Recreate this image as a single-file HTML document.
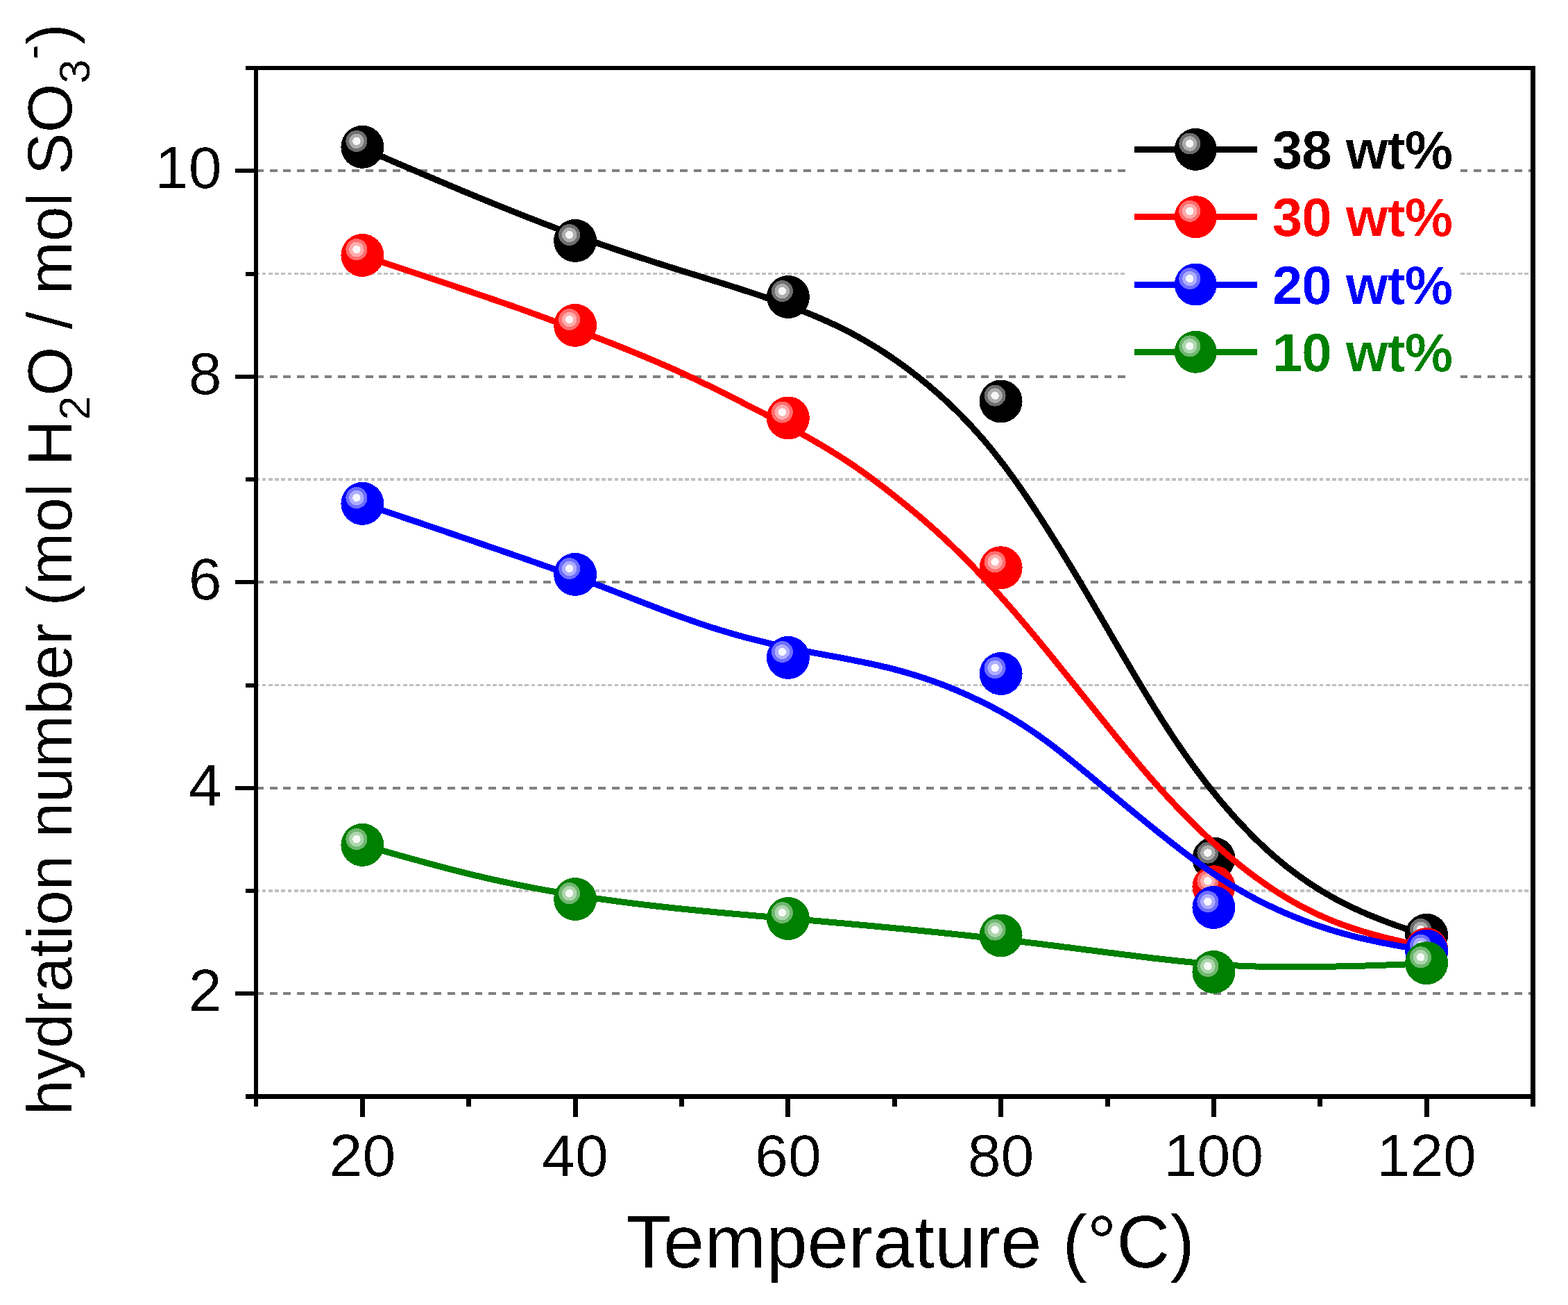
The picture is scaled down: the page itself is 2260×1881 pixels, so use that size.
<!DOCTYPE html>
<html><head><meta charset="utf-8"><title>hydration number</title>
<style>
html,body{margin:0;padding:0;background:#fff;overflow:hidden;}
svg{display:block;}
text{font-family:"Liberation Sans",Arial,Helvetica,sans-serif;fill:#000;}
</style></head>
<body>
<svg width="2260" height="1881" viewBox="0 0 2260 1881" shape-rendering="crispEdges">
<defs><filter id="al" x="0" y="0" width="1" height="1"><feComponentTransfer><feFuncA type="discrete" tableValues="0 0 1"/></feComponentTransfer></filter></defs>
<rect x="0" y="0" width="2260" height="1881" fill="#fff"/>
<g><line x1="369" y1="1432.25" x2="2206" y2="1432.25" stroke="#808080" stroke-width="3.6" stroke-dasharray="10.8 8.92"/><line x1="369" y1="1135.75" x2="2206" y2="1135.75" stroke="#808080" stroke-width="3.6" stroke-dasharray="10.8 8.92"/><line x1="369" y1="839.25" x2="2206" y2="839.25" stroke="#808080" stroke-width="3.6" stroke-dasharray="10.8 8.92"/><line x1="369" y1="542.75" x2="2206" y2="542.75" stroke="#808080" stroke-width="3.6" stroke-dasharray="10.8 8.92"/><line x1="369" y1="246.25" x2="2206" y2="246.25" stroke="#808080" stroke-width="3.6" stroke-dasharray="10.8 8.92"/><line x1="368.4" y1="1284.00" x2="2206" y2="1284.00" stroke="#c0c0c0" stroke-width="3.2" stroke-dasharray="5.8 3.436"/><line x1="368.4" y1="987.50" x2="2206" y2="987.50" stroke="#c0c0c0" stroke-width="3.2" stroke-dasharray="5.8 3.436"/><line x1="368.4" y1="691.00" x2="2206" y2="691.00" stroke="#c0c0c0" stroke-width="3.2" stroke-dasharray="5.8 3.436"/><line x1="368.4" y1="394.50" x2="2206" y2="394.50" stroke="#c0c0c0" stroke-width="3.2" stroke-dasharray="5.8 3.436"/></g>
<rect x="1622" y="160" width="483" height="400" fill="#fff"/>
<path d="M522.4 213.6 L525.4 214.9 L528.4 216.2 L531.4 217.5 L534.4 218.8 L537.4 220.1 L540.4 221.4 L543.4 222.7 L546.4 224.0 L549.4 225.3 L552.4 226.5 L555.4 227.8 L558.4 229.1 L561.4 230.4 L564.4 231.7 L567.4 233.0 L570.4 234.3 L573.4 235.6 L576.4 236.9 L579.4 238.1 L582.4 239.4 L585.4 240.7 L588.4 242.0 L591.4 243.3 L594.4 244.6 L597.4 245.8 L600.4 247.1 L603.4 248.4 L606.4 249.7 L609.4 251.0 L612.4 252.2 L615.4 253.5 L618.4 254.8 L621.4 256.1 L624.4 257.3 L627.4 258.6 L630.4 259.9 L633.4 261.1 L636.4 262.4 L639.4 263.7 L642.4 264.9 L645.4 266.2 L648.4 267.5 L651.4 268.7 L654.4 270.0 L657.4 271.2 L660.4 272.5 L663.4 273.8 L666.4 275.0 L669.4 276.3 L672.4 277.5 L675.4 278.8 L678.4 280.0 L681.4 281.2 L684.4 282.5 L687.4 283.7 L690.4 285.0 L693.4 286.2 L696.4 287.4 L699.4 288.7 L702.4 289.9 L705.4 291.1 L708.4 292.3 L711.4 293.6 L714.4 294.8 L717.4 296.0 L720.4 297.2 L723.4 298.4 L726.4 299.6 L729.4 300.8 L732.4 302.0 L735.4 303.2 L738.4 304.4 L741.4 305.6 L744.4 306.8 L747.4 308.0 L750.4 309.2 L753.4 310.4 L756.4 311.6 L759.4 312.8 L762.4 313.9 L765.4 315.1 L768.4 316.3 L771.4 317.4 L774.4 318.6 L777.4 319.8 L780.4 320.9 L783.4 322.1 L786.4 323.2 L789.4 324.4 L792.4 325.5 L795.4 326.6 L798.4 327.8 L801.4 328.9 L804.4 330.0 L807.4 331.1 L810.4 332.3 L813.4 333.4 L816.4 334.5 L819.4 335.6 L822.4 336.7 L825.4 337.8 L828.4 338.8 L831.4 339.9 L834.4 341.0 L837.4 342.1 L840.4 343.2 L843.4 344.2 L846.4 345.3 L849.4 346.3 L852.4 347.4 L855.4 348.5 L858.4 349.5 L861.4 350.5 L864.4 351.6 L867.4 352.6 L870.4 353.7 L873.4 354.7 L876.4 355.7 L879.4 356.7 L882.4 357.8 L885.4 358.8 L888.4 359.8 L891.4 360.8 L894.4 361.8 L897.4 362.8 L900.4 363.8 L903.4 364.8 L906.4 365.8 L909.4 366.8 L912.4 367.8 L915.4 368.8 L918.4 369.8 L921.4 370.8 L924.4 371.8 L927.4 372.7 L930.4 373.7 L933.4 374.7 L936.4 375.7 L939.4 376.6 L942.4 377.6 L945.4 378.6 L948.4 379.5 L951.4 380.5 L954.4 381.4 L957.4 382.4 L960.4 383.3 L963.4 384.3 L966.4 385.2 L969.4 386.2 L972.4 387.1 L975.4 388.1 L978.4 389.0 L981.4 389.9 L984.4 390.9 L987.4 391.8 L990.4 392.7 L993.4 393.7 L996.4 394.6 L999.4 395.5 L1002.4 396.4 L1005.4 397.4 L1008.4 398.3 L1011.4 399.2 L1014.4 400.2 L1017.4 401.1 L1020.4 402.0 L1023.4 402.9 L1026.4 403.9 L1029.4 404.8 L1032.4 405.7 L1035.4 406.7 L1038.4 407.6 L1041.4 408.5 L1044.4 409.5 L1047.4 410.4 L1050.4 411.4 L1053.4 412.3 L1056.4 413.3 L1059.4 414.2 L1062.4 415.2 L1065.4 416.2 L1068.4 417.1 L1071.4 418.1 L1074.4 419.1 L1077.4 420.0 L1080.4 421.0 L1083.4 422.0 L1086.4 423.0 L1089.4 424.0 L1092.4 425.0 L1095.4 426.0 L1098.4 427.0 L1101.4 428.1 L1104.4 429.1 L1107.4 430.1 L1110.4 431.2 L1113.4 432.2 L1116.4 433.3 L1119.4 434.3 L1122.4 435.4 L1125.4 436.5 L1128.4 437.6 L1131.4 438.6 L1134.4 439.8 L1137.4 440.9 L1140.4 442.0 L1143.4 443.1 L1146.4 444.3 L1149.4 445.4 L1152.4 446.6 L1155.4 447.8 L1158.4 448.9 L1161.4 450.1 L1164.4 451.4 L1167.4 452.6 L1170.4 453.8 L1173.4 455.1 L1176.4 456.3 L1179.4 457.6 L1182.4 458.9 L1185.4 460.2 L1188.4 461.5 L1191.4 462.9 L1194.4 464.2 L1197.4 465.6 L1200.4 467.0 L1203.4 468.4 L1206.4 469.9 L1209.4 471.3 L1212.4 472.8 L1215.4 474.3 L1218.4 475.8 L1221.4 477.3 L1224.4 478.9 L1227.4 480.4 L1230.4 482.0 L1233.4 483.7 L1236.4 485.3 L1239.4 487.0 L1242.4 488.7 L1245.4 490.4 L1248.4 492.1 L1251.4 493.9 L1254.4 495.7 L1257.4 497.5 L1260.4 499.3 L1263.4 501.1 L1266.4 503.0 L1269.4 504.9 L1272.4 506.8 L1275.4 508.8 L1278.4 510.8 L1281.4 512.8 L1284.4 514.8 L1287.4 516.9 L1290.4 518.9 L1293.4 521.0 L1296.4 523.2 L1299.4 525.3 L1302.4 527.5 L1305.4 529.7 L1308.4 531.9 L1311.4 534.2 L1314.4 536.5 L1317.4 538.8 L1320.4 541.1 L1323.4 543.5 L1326.4 545.8 L1329.4 548.3 L1332.4 550.7 L1335.4 553.2 L1338.4 555.7 L1341.4 558.2 L1344.4 560.8 L1347.4 563.4 L1350.4 566.0 L1353.4 568.6 L1356.4 571.3 L1359.4 574.0 L1362.4 576.8 L1365.4 579.5 L1368.4 582.4 L1371.4 585.2 L1374.4 588.1 L1377.4 591.0 L1380.4 594.0 L1383.4 597.0 L1386.4 600.0 L1389.4 603.1 L1392.4 606.2 L1395.4 609.3 L1398.4 612.5 L1401.4 615.8 L1404.4 619.1 L1407.4 622.4 L1410.4 625.8 L1413.4 629.2 L1416.4 632.6 L1419.4 636.1 L1422.4 639.7 L1425.4 643.3 L1428.4 646.9 L1431.4 650.6 L1434.4 654.4 L1437.4 658.2 L1440.4 662.0 L1443.4 665.9 L1446.4 669.8 L1449.4 673.8 L1452.4 677.8 L1455.4 681.9 L1458.4 686.0 L1461.4 690.1 L1464.4 694.3 L1467.4 698.6 L1470.4 702.9 L1473.4 707.2 L1476.4 711.5 L1479.4 715.9 L1482.4 720.4 L1485.4 724.9 L1488.4 729.4 L1491.4 733.9 L1494.4 738.5 L1497.4 743.1 L1500.4 747.7 L1503.4 752.4 L1506.4 757.0 L1509.4 761.8 L1512.4 766.5 L1515.4 771.3 L1518.4 776.0 L1521.4 780.8 L1524.4 785.7 L1527.4 790.5 L1530.4 795.4 L1533.4 800.3 L1536.4 805.2 L1539.4 810.1 L1542.4 815.0 L1545.4 820.0 L1548.4 825.0 L1551.4 830.0 L1554.4 835.0 L1557.4 840.0 L1560.4 845.1 L1563.4 850.2 L1566.4 855.2 L1569.4 860.3 L1572.4 865.4 L1575.4 870.6 L1578.4 875.7 L1581.4 880.8 L1584.4 885.9 L1587.4 891.1 L1590.4 896.2 L1593.4 901.4 L1596.4 906.5 L1599.4 911.7 L1602.4 916.8 L1605.4 922.0 L1608.4 927.1 L1611.4 932.3 L1614.4 937.4 L1617.4 942.6 L1620.4 947.7 L1623.4 952.8 L1626.4 957.9 L1629.4 963.0 L1632.4 968.1 L1635.4 973.1 L1638.4 978.2 L1641.4 983.2 L1644.4 988.2 L1647.4 993.2 L1650.4 998.2 L1653.4 1003.1 L1656.4 1008.0 L1659.4 1012.9 L1662.4 1017.8 L1665.4 1022.6 L1668.4 1027.4 L1671.4 1032.2 L1674.4 1036.9 L1677.4 1041.6 L1680.4 1046.2 L1683.4 1050.9 L1686.4 1055.5 L1689.4 1060.0 L1692.4 1064.5 L1695.4 1069.0 L1698.4 1073.4 L1701.4 1077.8 L1704.4 1082.2 L1707.4 1086.5 L1710.4 1090.8 L1713.4 1095.0 L1716.4 1099.2 L1719.4 1103.3 L1722.4 1107.4 L1725.4 1111.5 L1728.4 1115.5 L1731.4 1119.5 L1734.4 1123.4 L1737.4 1127.3 L1740.4 1131.2 L1743.4 1135.0 L1746.4 1138.8 L1749.4 1142.5 L1752.4 1146.2 L1755.4 1149.8 L1758.4 1153.5 L1761.4 1157.0 L1764.4 1160.6 L1767.4 1164.1 L1770.4 1167.5 L1773.4 1170.9 L1776.4 1174.3 L1779.4 1177.7 L1782.4 1181.0 L1785.4 1184.2 L1788.4 1187.5 L1791.4 1190.7 L1794.4 1193.8 L1797.4 1196.9 L1800.4 1200.0 L1803.4 1203.1 L1806.4 1206.1 L1809.4 1209.1 L1812.4 1212.0 L1815.4 1214.9 L1818.4 1217.7 L1821.4 1220.6 L1824.4 1223.3 L1827.4 1226.1 L1830.4 1228.8 L1833.4 1231.5 L1836.4 1234.1 L1839.4 1236.7 L1842.4 1239.2 L1845.4 1241.7 L1848.4 1244.2 L1851.4 1246.6 L1854.4 1249.1 L1857.4 1251.4 L1860.4 1253.7 L1863.4 1256.0 L1866.4 1258.3 L1869.4 1260.5 L1872.4 1262.7 L1875.4 1264.8 L1878.4 1267.0 L1881.4 1269.0 L1884.4 1271.1 L1887.4 1273.1 L1890.4 1275.1 L1893.4 1277.0 L1896.4 1279.0 L1899.4 1280.8 L1902.4 1282.7 L1905.4 1284.5 L1908.4 1286.3 L1911.4 1288.1 L1914.4 1289.8 L1917.4 1291.5 L1920.4 1293.2 L1923.4 1294.9 L1926.4 1296.5 L1929.4 1298.1 L1932.4 1299.7 L1935.4 1301.2 L1938.4 1302.7 L1941.4 1304.2 L1944.4 1305.7 L1947.4 1307.2 L1950.4 1308.6 L1953.4 1310.0 L1956.4 1311.4 L1959.4 1312.7 L1962.4 1314.1 L1965.4 1315.4 L1968.4 1316.7 L1971.4 1318.0 L1974.4 1319.3 L1977.4 1320.5 L1980.4 1321.7 L1983.4 1322.9 L1986.4 1324.1 L1989.4 1325.3 L1992.4 1326.5 L1995.4 1327.6 L1998.4 1328.8 L2001.4 1329.9 L2004.4 1331.0 L2007.4 1332.1 L2010.4 1333.2 L2013.4 1334.3 L2016.4 1335.3 L2019.4 1336.4 L2022.4 1337.4 L2025.4 1338.5 L2028.4 1339.5 L2031.4 1340.6 L2034.4 1341.6 L2037.4 1342.6 L2040.4 1343.6 L2043.4 1344.6 L2046.4 1345.6 L2049.4 1346.7 L2052.4 1347.7 L2055.4 1348.7 L2056.3 1349.0" fill="none" stroke="#000000" stroke-width="9" stroke-linejoin="round"/>
<g><circle cx="522.4" cy="211.8" r="31.0" fill="#000000"/><circle cx="513.9" cy="203.4" r="15.5" fill="#6e6e6e"/><circle cx="513.9" cy="203.4" r="10.7" fill="#adadad"/><circle cx="513.9" cy="203.4" r="5.7" fill="#f7f7f7"/><circle cx="829.1" cy="346.9" r="31.0" fill="#000000"/><circle cx="820.6" cy="338.5" r="15.5" fill="#6e6e6e"/><circle cx="820.6" cy="338.5" r="10.7" fill="#adadad"/><circle cx="820.6" cy="338.5" r="5.7" fill="#f7f7f7"/><circle cx="1135.9" cy="428.0" r="31.0" fill="#000000"/><circle cx="1127.4" cy="419.6" r="15.5" fill="#6e6e6e"/><circle cx="1127.4" cy="419.6" r="10.7" fill="#adadad"/><circle cx="1127.4" cy="419.6" r="5.7" fill="#f7f7f7"/><circle cx="1442.6" cy="578.5" r="31.0" fill="#000000"/><circle cx="1434.1" cy="570.1" r="15.5" fill="#6e6e6e"/><circle cx="1434.1" cy="570.1" r="10.7" fill="#adadad"/><circle cx="1434.1" cy="570.1" r="5.7" fill="#f7f7f7"/><circle cx="1749.4" cy="1237.5" r="31.0" fill="#000000"/><circle cx="1740.9" cy="1229.1" r="15.5" fill="#6e6e6e"/><circle cx="1740.9" cy="1229.1" r="10.7" fill="#adadad"/><circle cx="1740.9" cy="1229.1" r="5.7" fill="#f7f7f7"/><circle cx="2056.1" cy="1347.8" r="31.0" fill="#000000"/><circle cx="2047.6" cy="1339.4" r="15.5" fill="#6e6e6e"/><circle cx="2047.6" cy="1339.4" r="10.7" fill="#adadad"/><circle cx="2047.6" cy="1339.4" r="5.7" fill="#f7f7f7"/></g>
<path d="M522.4 368.4 L525.4 369.4 L528.4 370.4 L531.4 371.4 L534.4 372.4 L537.4 373.4 L540.4 374.4 L543.4 375.4 L546.4 376.4 L549.4 377.4 L552.4 378.4 L555.4 379.4 L558.4 380.4 L561.4 381.4 L564.4 382.4 L567.4 383.4 L570.4 384.4 L573.4 385.4 L576.4 386.4 L579.4 387.4 L582.4 388.4 L585.4 389.4 L588.4 390.4 L591.4 391.4 L594.4 392.4 L597.4 393.3 L600.4 394.3 L603.4 395.3 L606.4 396.3 L609.4 397.3 L612.4 398.3 L615.4 399.3 L618.4 400.4 L621.4 401.4 L624.4 402.4 L627.4 403.4 L630.4 404.4 L633.4 405.4 L636.4 406.4 L639.4 407.4 L642.4 408.4 L645.4 409.4 L648.4 410.4 L651.4 411.4 L654.4 412.4 L657.4 413.4 L660.4 414.5 L663.4 415.5 L666.4 416.5 L669.4 417.5 L672.4 418.5 L675.4 419.5 L678.4 420.5 L681.4 421.6 L684.4 422.6 L687.4 423.6 L690.4 424.6 L693.4 425.6 L696.4 426.7 L699.4 427.7 L702.4 428.7 L705.4 429.7 L708.4 430.8 L711.4 431.8 L714.4 432.8 L717.4 433.9 L720.4 434.9 L723.4 435.9 L726.4 437.0 L729.4 438.0 L732.4 439.1 L735.4 440.1 L738.4 441.2 L741.4 442.2 L744.4 443.3 L747.4 444.4 L750.4 445.4 L753.4 446.5 L756.4 447.6 L759.4 448.7 L762.4 449.7 L765.4 450.8 L768.4 451.9 L771.4 453.0 L774.4 454.1 L777.4 455.2 L780.4 456.3 L783.4 457.4 L786.4 458.5 L789.4 459.6 L792.4 460.7 L795.4 461.8 L798.4 463.0 L801.4 464.1 L804.4 465.2 L807.4 466.3 L810.4 467.5 L813.4 468.6 L816.4 469.8 L819.4 470.9 L822.4 472.0 L825.4 473.2 L828.4 474.3 L831.4 475.5 L834.4 476.6 L837.4 477.8 L840.4 479.0 L843.4 480.1 L846.4 481.3 L849.4 482.4 L852.4 483.6 L855.4 484.8 L858.4 485.9 L861.4 487.1 L864.4 488.3 L867.4 489.4 L870.4 490.6 L873.4 491.8 L876.4 493.0 L879.4 494.1 L882.4 495.3 L885.4 496.5 L888.4 497.7 L891.4 498.9 L894.4 500.1 L897.4 501.3 L900.4 502.5 L903.4 503.7 L906.4 504.9 L909.4 506.1 L912.4 507.4 L915.4 508.6 L918.4 509.8 L921.4 511.0 L924.4 512.3 L927.4 513.5 L930.4 514.8 L933.4 516.0 L936.4 517.3 L939.4 518.6 L942.4 519.8 L945.4 521.1 L948.4 522.4 L951.4 523.7 L954.4 525.0 L957.4 526.3 L960.4 527.6 L963.4 528.9 L966.4 530.3 L969.4 531.6 L972.4 532.9 L975.4 534.3 L978.4 535.7 L981.4 537.0 L984.4 538.4 L987.4 539.8 L990.4 541.2 L993.4 542.6 L996.4 544.0 L999.4 545.4 L1002.4 546.8 L1005.4 548.2 L1008.4 549.7 L1011.4 551.1 L1014.4 552.5 L1017.4 554.0 L1020.4 555.4 L1023.4 556.9 L1026.4 558.4 L1029.4 559.9 L1032.4 561.3 L1035.4 562.8 L1038.4 564.3 L1041.4 565.8 L1044.4 567.3 L1047.4 568.8 L1050.4 570.3 L1053.4 571.8 L1056.4 573.3 L1059.4 574.8 L1062.4 576.4 L1065.4 577.9 L1068.4 579.4 L1071.4 581.0 L1074.4 582.5 L1077.4 584.0 L1080.4 585.6 L1083.4 587.1 L1086.4 588.7 L1089.4 590.2 L1092.4 591.8 L1095.4 593.3 L1098.4 594.9 L1101.4 596.4 L1104.4 598.0 L1107.4 599.6 L1110.4 601.1 L1113.4 602.7 L1116.4 604.3 L1119.4 605.9 L1122.4 607.5 L1125.4 609.1 L1128.4 610.7 L1131.4 612.3 L1134.4 613.9 L1137.4 615.5 L1140.4 617.1 L1143.4 618.7 L1146.4 620.4 L1149.4 622.0 L1152.4 623.7 L1155.4 625.3 L1158.4 627.0 L1161.4 628.7 L1164.4 630.4 L1167.4 632.1 L1170.4 633.8 L1173.4 635.5 L1176.4 637.3 L1179.4 639.0 L1182.4 640.8 L1185.4 642.5 L1188.4 644.3 L1191.4 646.1 L1194.4 648.0 L1197.4 649.8 L1200.4 651.6 L1203.4 653.5 L1206.4 655.4 L1209.4 657.3 L1212.4 659.2 L1215.4 661.2 L1218.4 663.1 L1221.4 665.1 L1224.4 667.1 L1227.4 669.1 L1230.4 671.1 L1233.4 673.2 L1236.4 675.3 L1239.4 677.4 L1242.4 679.5 L1245.4 681.6 L1248.4 683.8 L1251.4 685.9 L1254.4 688.1 L1257.4 690.3 L1260.4 692.6 L1263.4 694.8 L1266.4 697.1 L1269.4 699.4 L1272.4 701.7 L1275.4 704.0 L1278.4 706.3 L1281.4 708.7 L1284.4 711.0 L1287.4 713.4 L1290.4 715.8 L1293.4 718.2 L1296.4 720.6 L1299.4 723.0 L1302.4 725.4 L1305.4 727.9 L1308.4 730.3 L1311.4 732.8 L1314.4 735.3 L1317.4 737.8 L1320.4 740.3 L1323.4 742.9 L1326.4 745.4 L1329.4 748.0 L1332.4 750.6 L1335.4 753.2 L1338.4 755.8 L1341.4 758.5 L1344.4 761.1 L1347.4 763.8 L1350.4 766.5 L1353.4 769.2 L1356.4 772.0 L1359.4 774.7 L1362.4 777.5 L1365.4 780.3 L1368.4 783.1 L1371.4 786.0 L1374.4 788.9 L1377.4 791.8 L1380.4 794.7 L1383.4 797.6 L1386.4 800.6 L1389.4 803.6 L1392.4 806.6 L1395.4 809.6 L1398.4 812.7 L1401.4 815.7 L1404.4 818.8 L1407.4 822.0 L1410.4 825.1 L1413.4 828.3 L1416.4 831.5 L1419.4 834.7 L1422.4 837.9 L1425.4 841.1 L1428.4 844.4 L1431.4 847.7 L1434.4 851.0 L1437.4 854.3 L1440.4 857.6 L1443.4 861.0 L1446.4 864.4 L1449.4 867.7 L1452.4 871.2 L1455.4 874.6 L1458.4 878.0 L1461.4 881.5 L1464.4 884.9 L1467.4 888.4 L1470.4 891.9 L1473.4 895.5 L1476.4 899.0 L1479.4 902.5 L1482.4 906.1 L1485.4 909.7 L1488.4 913.3 L1491.4 916.9 L1494.4 920.5 L1497.4 924.1 L1500.4 927.7 L1503.4 931.4 L1506.4 935.0 L1509.4 938.7 L1512.4 942.4 L1515.4 946.1 L1518.4 949.8 L1521.4 953.5 L1524.4 957.2 L1527.4 960.9 L1530.4 964.6 L1533.4 968.3 L1536.4 972.1 L1539.4 975.8 L1542.4 979.5 L1545.4 983.2 L1548.4 987.0 L1551.4 990.7 L1554.4 994.4 L1557.4 998.2 L1560.4 1001.9 L1563.4 1005.6 L1566.4 1009.4 L1569.4 1013.1 L1572.4 1016.8 L1575.4 1020.5 L1578.4 1024.3 L1581.4 1028.0 L1584.4 1031.7 L1587.4 1035.5 L1590.4 1039.2 L1593.4 1042.9 L1596.4 1046.6 L1599.4 1050.4 L1602.4 1054.1 L1605.4 1057.8 L1608.4 1061.5 L1611.4 1065.2 L1614.4 1068.9 L1617.4 1072.5 L1620.4 1076.2 L1623.4 1079.9 L1626.4 1083.5 L1629.4 1087.1 L1632.4 1090.7 L1635.4 1094.3 L1638.4 1097.9 L1641.4 1101.5 L1644.4 1105.0 L1647.4 1108.5 L1650.4 1112.1 L1653.4 1115.5 L1656.4 1119.0 L1659.4 1122.5 L1662.4 1125.9 L1665.4 1129.3 L1668.4 1132.7 L1671.4 1136.0 L1674.4 1139.4 L1677.4 1142.7 L1680.4 1146.0 L1683.4 1149.3 L1686.4 1152.5 L1689.4 1155.7 L1692.4 1158.9 L1695.4 1162.1 L1698.4 1165.3 L1701.4 1168.4 L1704.4 1171.5 L1707.4 1174.6 L1710.4 1177.6 L1713.4 1180.6 L1716.4 1183.6 L1719.4 1186.6 L1722.4 1189.5 L1725.4 1192.5 L1728.4 1195.4 L1731.4 1198.2 L1734.4 1201.1 L1737.4 1203.9 L1740.4 1206.7 L1743.4 1209.5 L1746.4 1212.2 L1749.4 1214.9 L1752.4 1217.6 L1755.4 1220.3 L1758.4 1223.0 L1761.4 1225.6 L1764.4 1228.2 L1767.4 1230.8 L1770.4 1233.3 L1773.4 1235.8 L1776.4 1238.3 L1779.4 1240.8 L1782.4 1243.2 L1785.4 1245.7 L1788.4 1248.1 L1791.4 1250.4 L1794.4 1252.8 L1797.4 1255.1 L1800.4 1257.4 L1803.4 1259.7 L1806.4 1261.9 L1809.4 1264.1 L1812.4 1266.3 L1815.4 1268.5 L1818.4 1270.6 L1821.4 1272.7 L1824.4 1274.8 L1827.4 1276.9 L1830.4 1278.9 L1833.4 1280.9 L1836.4 1282.9 L1839.4 1284.9 L1842.4 1286.8 L1845.4 1288.7 L1848.4 1290.5 L1851.4 1292.4 L1854.4 1294.2 L1857.4 1296.0 L1860.4 1297.7 L1863.4 1299.5 L1866.4 1301.2 L1869.4 1302.9 L1872.4 1304.5 L1875.4 1306.1 L1878.4 1307.7 L1881.4 1309.3 L1884.4 1310.8 L1887.4 1312.3 L1890.4 1313.8 L1893.4 1315.3 L1896.4 1316.7 L1899.4 1318.1 L1902.4 1319.5 L1905.4 1320.8 L1908.4 1322.1 L1911.4 1323.4 L1914.4 1324.7 L1917.4 1326.0 L1920.4 1327.2 L1923.4 1328.4 L1926.4 1329.6 L1929.4 1330.7 L1932.4 1331.8 L1935.4 1332.9 L1938.4 1334.0 L1941.4 1335.1 L1944.4 1336.1 L1947.4 1337.2 L1950.4 1338.2 L1953.4 1339.1 L1956.4 1340.1 L1959.4 1341.0 L1962.4 1342.0 L1965.4 1342.9 L1968.4 1343.8 L1971.4 1344.7 L1974.4 1345.5 L1977.4 1346.4 L1980.4 1347.2 L1983.4 1348.0 L1986.4 1348.8 L1989.4 1349.6 L1992.4 1350.4 L1995.4 1351.2 L1998.4 1351.9 L2001.4 1352.7 L2004.4 1353.4 L2007.4 1354.1 L2010.4 1354.9 L2013.4 1355.6 L2016.4 1356.3 L2019.4 1357.0 L2022.4 1357.7 L2025.4 1358.4 L2028.4 1359.0 L2031.4 1359.7 L2034.4 1360.4 L2037.4 1361.1 L2040.4 1361.7 L2043.4 1362.4 L2046.4 1363.1 L2049.4 1363.7 L2052.4 1364.4 L2055.4 1365.0 L2056.3 1365.2" fill="none" stroke="#ff0000" stroke-width="9" stroke-linejoin="round"/>
<g><circle cx="522.4" cy="368.0" r="31.0" fill="#ff0000"/><circle cx="513.9" cy="359.6" r="15.5" fill="#ff6e6e"/><circle cx="513.9" cy="359.6" r="10.7" fill="#ffadad"/><circle cx="513.9" cy="359.6" r="5.7" fill="#fff7f7"/><circle cx="829.1" cy="468.9" r="31.0" fill="#ff0000"/><circle cx="820.6" cy="460.5" r="15.5" fill="#ff6e6e"/><circle cx="820.6" cy="460.5" r="10.7" fill="#ffadad"/><circle cx="820.6" cy="460.5" r="5.7" fill="#fff7f7"/><circle cx="1135.9" cy="602.5" r="31.0" fill="#ff0000"/><circle cx="1127.4" cy="594.1" r="15.5" fill="#ff6e6e"/><circle cx="1127.4" cy="594.1" r="10.7" fill="#ffadad"/><circle cx="1127.4" cy="594.1" r="5.7" fill="#fff7f7"/><circle cx="1442.6" cy="818.3" r="31.0" fill="#ff0000"/><circle cx="1434.1" cy="809.9" r="15.5" fill="#ff6e6e"/><circle cx="1434.1" cy="809.9" r="10.7" fill="#ffadad"/><circle cx="1434.1" cy="809.9" r="5.7" fill="#fff7f7"/><circle cx="1749.4" cy="1278.3" r="31.0" fill="#ff0000"/><circle cx="1740.9" cy="1269.9" r="15.5" fill="#ff6e6e"/><circle cx="1740.9" cy="1269.9" r="10.7" fill="#ffadad"/><circle cx="1740.9" cy="1269.9" r="5.7" fill="#fff7f7"/><circle cx="2056.1" cy="1368.1" r="31.0" fill="#ff0000"/><circle cx="2047.6" cy="1359.7" r="15.5" fill="#ff6e6e"/><circle cx="2047.6" cy="1359.7" r="10.7" fill="#ffadad"/><circle cx="2047.6" cy="1359.7" r="5.7" fill="#fff7f7"/></g>
<path d="M522.4 725.7 L525.4 726.7 L528.4 727.7 L531.4 728.7 L534.4 729.7 L537.4 730.8 L540.4 731.8 L543.4 732.8 L546.4 733.8 L549.4 734.9 L552.4 735.9 L555.4 736.9 L558.4 737.9 L561.4 738.9 L564.4 740.0 L567.4 741.0 L570.4 742.0 L573.4 743.0 L576.4 744.0 L579.4 745.1 L582.4 746.1 L585.4 747.1 L588.4 748.1 L591.4 749.1 L594.4 750.2 L597.4 751.2 L600.4 752.2 L603.4 753.2 L606.4 754.2 L609.4 755.2 L612.4 756.3 L615.4 757.3 L618.4 758.3 L621.4 759.3 L624.4 760.3 L627.4 761.4 L630.4 762.4 L633.4 763.4 L636.4 764.4 L639.4 765.4 L642.4 766.4 L645.4 767.5 L648.4 768.5 L651.4 769.5 L654.4 770.5 L657.4 771.5 L660.4 772.6 L663.4 773.6 L666.4 774.6 L669.4 775.6 L672.4 776.6 L675.4 777.7 L678.4 778.7 L681.4 779.7 L684.4 780.7 L687.4 781.8 L690.4 782.8 L693.4 783.8 L696.4 784.8 L699.4 785.8 L702.4 786.9 L705.4 787.9 L708.4 788.9 L711.4 790.0 L714.4 791.0 L717.4 792.0 L720.4 793.0 L723.4 794.1 L726.4 795.1 L729.4 796.1 L732.4 797.2 L735.4 798.2 L738.4 799.2 L741.4 800.3 L744.4 801.3 L747.4 802.3 L750.4 803.4 L753.4 804.4 L756.4 805.5 L759.4 806.5 L762.4 807.5 L765.4 808.6 L768.4 809.6 L771.4 810.7 L774.4 811.7 L777.4 812.8 L780.4 813.8 L783.4 814.9 L786.4 815.9 L789.4 817.0 L792.4 818.0 L795.4 819.1 L798.4 820.1 L801.4 821.2 L804.4 822.3 L807.4 823.3 L810.4 824.4 L813.4 825.5 L816.4 826.5 L819.4 827.6 L822.4 828.7 L825.4 829.8 L828.4 830.9 L831.4 832.0 L834.4 833.1 L837.4 834.2 L840.4 835.3 L843.4 836.4 L846.4 837.5 L849.4 838.6 L852.4 839.7 L855.4 840.9 L858.4 842.0 L861.4 843.1 L864.4 844.3 L867.4 845.4 L870.4 846.6 L873.4 847.7 L876.4 848.9 L879.4 850.1 L882.4 851.2 L885.4 852.4 L888.4 853.6 L891.4 854.7 L894.4 855.9 L897.4 857.1 L900.4 858.3 L903.4 859.4 L906.4 860.6 L909.4 861.8 L912.4 863.0 L915.4 864.1 L918.4 865.3 L921.4 866.5 L924.4 867.6 L927.4 868.8 L930.4 870.0 L933.4 871.1 L936.4 872.3 L939.4 873.4 L942.4 874.6 L945.4 875.7 L948.4 876.9 L951.4 878.0 L954.4 879.2 L957.4 880.3 L960.4 881.4 L963.4 882.5 L966.4 883.7 L969.4 884.8 L972.4 885.9 L975.4 887.0 L978.4 888.1 L981.4 889.2 L984.4 890.2 L987.4 891.3 L990.4 892.4 L993.4 893.4 L996.4 894.5 L999.4 895.5 L1002.4 896.6 L1005.4 897.6 L1008.4 898.6 L1011.4 899.6 L1014.4 900.6 L1017.4 901.6 L1020.4 902.6 L1023.4 903.6 L1026.4 904.6 L1029.4 905.5 L1032.4 906.5 L1035.4 907.4 L1038.4 908.3 L1041.4 909.2 L1044.4 910.1 L1047.4 911.0 L1050.4 911.9 L1053.4 912.8 L1056.4 913.7 L1059.4 914.5 L1062.4 915.4 L1065.4 916.2 L1068.4 917.0 L1071.4 917.9 L1074.4 918.7 L1077.4 919.5 L1080.4 920.2 L1083.4 921.0 L1086.4 921.8 L1089.4 922.6 L1092.4 923.3 L1095.4 924.1 L1098.4 924.8 L1101.4 925.5 L1104.4 926.2 L1107.4 927.0 L1110.4 927.7 L1113.4 928.4 L1116.4 929.1 L1119.4 929.7 L1122.4 930.4 L1125.4 931.1 L1128.4 931.7 L1131.4 932.4 L1134.4 933.0 L1137.4 933.7 L1140.4 934.3 L1143.4 934.9 L1146.4 935.6 L1149.4 936.2 L1152.4 936.8 L1155.4 937.4 L1158.4 938.0 L1161.4 938.6 L1164.4 939.2 L1167.4 939.8 L1170.4 940.3 L1173.4 940.9 L1176.4 941.5 L1179.4 942.1 L1182.4 942.6 L1185.4 943.2 L1188.4 943.7 L1191.4 944.3 L1194.4 944.9 L1197.4 945.4 L1200.4 946.0 L1203.4 946.5 L1206.4 947.1 L1209.4 947.7 L1212.4 948.2 L1215.4 948.8 L1218.4 949.4 L1221.4 949.9 L1224.4 950.5 L1227.4 951.1 L1230.4 951.7 L1233.4 952.3 L1236.4 952.9 L1239.4 953.5 L1242.4 954.1 L1245.4 954.7 L1248.4 955.3 L1251.4 956.0 L1254.4 956.6 L1257.4 957.3 L1260.4 957.9 L1263.4 958.6 L1266.4 959.3 L1269.4 960.0 L1272.4 960.7 L1275.4 961.4 L1278.4 962.1 L1281.4 962.8 L1284.4 963.6 L1287.4 964.3 L1290.4 965.1 L1293.4 965.9 L1296.4 966.7 L1299.4 967.5 L1302.4 968.4 L1305.4 969.2 L1308.4 970.1 L1311.4 971.0 L1314.4 971.9 L1317.4 972.8 L1320.4 973.7 L1323.4 974.6 L1326.4 975.6 L1329.4 976.6 L1332.4 977.5 L1335.4 978.6 L1338.4 979.6 L1341.4 980.6 L1344.4 981.7 L1347.4 982.8 L1350.4 983.9 L1353.4 985.0 L1356.4 986.1 L1359.4 987.2 L1362.4 988.4 L1365.4 989.6 L1368.4 990.8 L1371.4 992.0 L1374.4 993.3 L1377.4 994.5 L1380.4 995.8 L1383.4 997.1 L1386.4 998.4 L1389.4 999.7 L1392.4 1001.0 L1395.4 1002.4 L1398.4 1003.8 L1401.4 1005.1 L1404.4 1006.5 L1407.4 1008.0 L1410.4 1009.4 L1413.4 1010.9 L1416.4 1012.3 L1419.4 1013.8 L1422.4 1015.3 L1425.4 1016.8 L1428.4 1018.4 L1431.4 1019.9 L1434.4 1021.5 L1437.4 1023.1 L1440.4 1024.8 L1443.4 1026.4 L1446.4 1028.1 L1449.4 1029.8 L1452.4 1031.5 L1455.4 1033.3 L1458.4 1035.0 L1461.4 1036.8 L1464.4 1038.7 L1467.4 1040.5 L1470.4 1042.4 L1473.4 1044.3 L1476.4 1046.2 L1479.4 1048.2 L1482.4 1050.2 L1485.4 1052.2 L1488.4 1054.3 L1491.4 1056.3 L1494.4 1058.4 L1497.4 1060.5 L1500.4 1062.7 L1503.4 1064.9 L1506.4 1067.0 L1509.4 1069.3 L1512.4 1071.5 L1515.4 1073.8 L1518.4 1076.0 L1521.4 1078.3 L1524.4 1080.6 L1527.4 1083.0 L1530.4 1085.3 L1533.4 1087.7 L1536.4 1090.1 L1539.4 1092.5 L1542.4 1094.9 L1545.4 1097.3 L1548.4 1099.8 L1551.4 1102.2 L1554.4 1104.7 L1557.4 1107.1 L1560.4 1109.6 L1563.4 1112.1 L1566.4 1114.5 L1569.4 1117.0 L1572.4 1119.5 L1575.4 1122.0 L1578.4 1124.5 L1581.4 1127.0 L1584.4 1129.5 L1587.4 1132.0 L1590.4 1134.5 L1593.4 1137.0 L1596.4 1139.5 L1599.4 1142.0 L1602.4 1144.5 L1605.4 1147.0 L1608.4 1149.5 L1611.4 1152.0 L1614.4 1154.5 L1617.4 1157.0 L1620.4 1159.5 L1623.4 1162.0 L1626.4 1164.5 L1629.4 1166.9 L1632.4 1169.4 L1635.4 1171.9 L1638.4 1174.3 L1641.4 1176.8 L1644.4 1179.2 L1647.4 1181.7 L1650.4 1184.1 L1653.4 1186.6 L1656.4 1189.0 L1659.4 1191.4 L1662.4 1193.8 L1665.4 1196.3 L1668.4 1198.7 L1671.4 1201.1 L1674.4 1203.5 L1677.4 1205.8 L1680.4 1208.2 L1683.4 1210.6 L1686.4 1212.9 L1689.4 1215.3 L1692.4 1217.6 L1695.4 1220.0 L1698.4 1222.3 L1701.4 1224.6 L1704.4 1226.9 L1707.4 1229.1 L1710.4 1231.4 L1713.4 1233.7 L1716.4 1235.9 L1719.4 1238.1 L1722.4 1240.3 L1725.4 1242.5 L1728.4 1244.7 L1731.4 1246.9 L1734.4 1249.0 L1737.4 1251.1 L1740.4 1253.2 L1743.4 1255.3 L1746.4 1257.4 L1749.4 1259.4 L1752.4 1261.4 L1755.4 1263.4 L1758.4 1265.4 L1761.4 1267.3 L1764.4 1269.2 L1767.4 1271.2 L1770.4 1273.0 L1773.4 1274.9 L1776.4 1276.7 L1779.4 1278.5 L1782.4 1280.3 L1785.4 1282.1 L1788.4 1283.9 L1791.4 1285.6 L1794.4 1287.3 L1797.4 1289.0 L1800.4 1290.6 L1803.4 1292.3 L1806.4 1293.9 L1809.4 1295.5 L1812.4 1297.0 L1815.4 1298.6 L1818.4 1300.1 L1821.4 1301.6 L1824.4 1303.1 L1827.4 1304.6 L1830.4 1306.0 L1833.4 1307.4 L1836.4 1308.8 L1839.4 1310.2 L1842.4 1311.6 L1845.4 1312.9 L1848.4 1314.3 L1851.4 1315.6 L1854.4 1316.9 L1857.4 1318.2 L1860.4 1319.4 L1863.4 1320.6 L1866.4 1321.9 L1869.4 1323.1 L1872.4 1324.3 L1875.4 1325.4 L1878.4 1326.6 L1881.4 1327.7 L1884.4 1328.8 L1887.4 1329.9 L1890.4 1331.0 L1893.4 1332.1 L1896.4 1333.1 L1899.4 1334.2 L1902.4 1335.2 L1905.4 1336.2 L1908.4 1337.2 L1911.4 1338.2 L1914.4 1339.1 L1917.4 1340.1 L1920.4 1341.0 L1923.4 1341.9 L1926.4 1342.8 L1929.4 1343.7 L1932.4 1344.5 L1935.4 1345.4 L1938.4 1346.2 L1941.4 1347.0 L1944.4 1347.8 L1947.4 1348.6 L1950.4 1349.4 L1953.4 1350.2 L1956.4 1350.9 L1959.4 1351.6 L1962.4 1352.4 L1965.4 1353.1 L1968.4 1353.8 L1971.4 1354.4 L1974.4 1355.1 L1977.4 1355.8 L1980.4 1356.4 L1983.4 1357.1 L1986.4 1357.7 L1989.4 1358.3 L1992.4 1358.9 L1995.4 1359.5 L1998.4 1360.1 L2001.4 1360.7 L2004.4 1361.2 L2007.4 1361.8 L2010.4 1362.3 L2013.4 1362.9 L2016.4 1363.4 L2019.4 1364.0 L2022.4 1364.5 L2025.4 1365.0 L2028.4 1365.5 L2031.4 1366.0 L2034.4 1366.5 L2037.4 1367.1 L2040.4 1367.6 L2043.4 1368.1 L2046.4 1368.6 L2049.4 1369.1 L2052.4 1369.5 L2055.4 1370.0 L2056.3 1370.2" fill="none" stroke="#0000ff" stroke-width="9" stroke-linejoin="round"/>
<g><circle cx="522.4" cy="725.9" r="31.0" fill="#0000ff"/><circle cx="513.9" cy="717.5" r="15.5" fill="#6e6eff"/><circle cx="513.9" cy="717.5" r="10.7" fill="#adadff"/><circle cx="513.9" cy="717.5" r="5.7" fill="#f7f7ff"/><circle cx="829.1" cy="827.9" r="31.0" fill="#0000ff"/><circle cx="820.6" cy="819.5" r="15.5" fill="#6e6eff"/><circle cx="820.6" cy="819.5" r="10.7" fill="#adadff"/><circle cx="820.6" cy="819.5" r="5.7" fill="#f7f7ff"/><circle cx="1135.9" cy="947.9" r="31.0" fill="#0000ff"/><circle cx="1127.4" cy="939.5" r="15.5" fill="#6e6eff"/><circle cx="1127.4" cy="939.5" r="10.7" fill="#adadff"/><circle cx="1127.4" cy="939.5" r="5.7" fill="#f7f7ff"/><circle cx="1442.6" cy="971.0" r="31.0" fill="#0000ff"/><circle cx="1434.1" cy="962.6" r="15.5" fill="#6e6eff"/><circle cx="1434.1" cy="962.6" r="10.7" fill="#adadff"/><circle cx="1434.1" cy="962.6" r="5.7" fill="#f7f7ff"/><circle cx="1749.4" cy="1308.0" r="31.0" fill="#0000ff"/><circle cx="1740.9" cy="1299.6" r="15.5" fill="#6e6eff"/><circle cx="1740.9" cy="1299.6" r="10.7" fill="#adadff"/><circle cx="1740.9" cy="1299.6" r="5.7" fill="#f7f7ff"/><circle cx="2056.1" cy="1370.7" r="31.0" fill="#0000ff"/><circle cx="2047.6" cy="1362.3" r="15.5" fill="#6e6eff"/><circle cx="2047.6" cy="1362.3" r="10.7" fill="#adadff"/><circle cx="2047.6" cy="1362.3" r="5.7" fill="#f7f7ff"/></g>
<path d="M522.4 1218.0 L525.4 1218.9 L528.4 1219.7 L531.4 1220.6 L534.4 1221.4 L537.4 1222.3 L540.4 1223.1 L543.4 1223.9 L546.4 1224.8 L549.4 1225.6 L552.4 1226.5 L555.4 1227.3 L558.4 1228.1 L561.4 1229.0 L564.4 1229.8 L567.4 1230.7 L570.4 1231.5 L573.4 1232.3 L576.4 1233.2 L579.4 1234.0 L582.4 1234.8 L585.4 1235.7 L588.4 1236.5 L591.4 1237.3 L594.4 1238.2 L597.4 1239.0 L600.4 1239.8 L603.4 1240.6 L606.4 1241.5 L609.4 1242.3 L612.4 1243.1 L615.4 1243.9 L618.4 1244.7 L621.4 1245.5 L624.4 1246.3 L627.4 1247.1 L630.4 1247.9 L633.4 1248.7 L636.4 1249.5 L639.4 1250.3 L642.4 1251.1 L645.4 1251.9 L648.4 1252.7 L651.4 1253.4 L654.4 1254.2 L657.4 1255.0 L660.4 1255.7 L663.4 1256.5 L666.4 1257.2 L669.4 1258.0 L672.4 1258.7 L675.4 1259.5 L678.4 1260.2 L681.4 1260.9 L684.4 1261.6 L687.4 1262.4 L690.4 1263.1 L693.4 1263.8 L696.4 1264.5 L699.4 1265.2 L702.4 1265.9 L705.4 1266.5 L708.4 1267.2 L711.4 1267.9 L714.4 1268.6 L717.4 1269.2 L720.4 1269.9 L723.4 1270.5 L726.4 1271.2 L729.4 1271.8 L732.4 1272.5 L735.4 1273.1 L738.4 1273.7 L741.4 1274.4 L744.4 1275.0 L747.4 1275.6 L750.4 1276.2 L753.4 1276.8 L756.4 1277.4 L759.4 1278.0 L762.4 1278.6 L765.4 1279.1 L768.4 1279.7 L771.4 1280.3 L774.4 1280.9 L777.4 1281.4 L780.4 1282.0 L783.4 1282.5 L786.4 1283.1 L789.4 1283.6 L792.4 1284.1 L795.4 1284.7 L798.4 1285.2 L801.4 1285.7 L804.4 1286.2 L807.4 1286.7 L810.4 1287.2 L813.4 1287.8 L816.4 1288.3 L819.4 1288.7 L822.4 1289.2 L825.4 1289.7 L828.4 1290.2 L831.4 1290.7 L834.4 1291.1 L837.4 1291.6 L840.4 1292.1 L843.4 1292.5 L846.4 1293.0 L849.4 1293.4 L852.4 1293.9 L855.4 1294.3 L858.4 1294.8 L861.4 1295.2 L864.4 1295.6 L867.4 1296.1 L870.4 1296.5 L873.4 1296.9 L876.4 1297.3 L879.4 1297.7 L882.4 1298.2 L885.4 1298.6 L888.4 1299.0 L891.4 1299.4 L894.4 1299.8 L897.4 1300.2 L900.4 1300.5 L903.4 1300.9 L906.4 1301.3 L909.4 1301.7 L912.4 1302.1 L915.4 1302.4 L918.4 1302.8 L921.4 1303.2 L924.4 1303.5 L927.4 1303.9 L930.4 1304.3 L933.4 1304.6 L936.4 1305.0 L939.4 1305.3 L942.4 1305.7 L945.4 1306.0 L948.4 1306.3 L951.4 1306.7 L954.4 1307.0 L957.4 1307.3 L960.4 1307.7 L963.4 1308.0 L966.4 1308.3 L969.4 1308.6 L972.4 1309.0 L975.4 1309.3 L978.4 1309.6 L981.4 1309.9 L984.4 1310.2 L987.4 1310.5 L990.4 1310.8 L993.4 1311.1 L996.4 1311.4 L999.4 1311.7 L1002.4 1312.0 L1005.4 1312.3 L1008.4 1312.6 L1011.4 1312.9 L1014.4 1313.2 L1017.4 1313.5 L1020.4 1313.8 L1023.4 1314.0 L1026.4 1314.3 L1029.4 1314.6 L1032.4 1314.9 L1035.4 1315.2 L1038.4 1315.4 L1041.4 1315.7 L1044.4 1316.0 L1047.4 1316.3 L1050.4 1316.5 L1053.4 1316.8 L1056.4 1317.1 L1059.4 1317.3 L1062.4 1317.6 L1065.4 1317.9 L1068.4 1318.1 L1071.4 1318.4 L1074.4 1318.7 L1077.4 1318.9 L1080.4 1319.2 L1083.4 1319.4 L1086.4 1319.7 L1089.4 1320.0 L1092.4 1320.2 L1095.4 1320.5 L1098.4 1320.7 L1101.4 1321.0 L1104.4 1321.2 L1107.4 1321.5 L1110.4 1321.7 L1113.4 1322.0 L1116.4 1322.3 L1119.4 1322.5 L1122.4 1322.8 L1125.4 1323.0 L1128.4 1323.3 L1131.4 1323.5 L1134.4 1323.8 L1137.4 1324.0 L1140.4 1324.3 L1143.4 1324.6 L1146.4 1324.8 L1149.4 1325.1 L1152.4 1325.3 L1155.4 1325.6 L1158.4 1325.8 L1161.4 1326.1 L1164.4 1326.4 L1167.4 1326.6 L1170.4 1326.9 L1173.4 1327.1 L1176.4 1327.4 L1179.4 1327.7 L1182.4 1327.9 L1185.4 1328.2 L1188.4 1328.5 L1191.4 1328.7 L1194.4 1329.0 L1197.4 1329.3 L1200.4 1329.5 L1203.4 1329.8 L1206.4 1330.1 L1209.4 1330.3 L1212.4 1330.6 L1215.4 1330.9 L1218.4 1331.1 L1221.4 1331.4 L1224.4 1331.7 L1227.4 1332.0 L1230.4 1332.2 L1233.4 1332.5 L1236.4 1332.8 L1239.4 1333.1 L1242.4 1333.3 L1245.4 1333.6 L1248.4 1333.9 L1251.4 1334.2 L1254.4 1334.5 L1257.4 1334.7 L1260.4 1335.0 L1263.4 1335.3 L1266.4 1335.6 L1269.4 1335.9 L1272.4 1336.2 L1275.4 1336.4 L1278.4 1336.7 L1281.4 1337.0 L1284.4 1337.3 L1287.4 1337.6 L1290.4 1337.9 L1293.4 1338.2 L1296.4 1338.5 L1299.4 1338.7 L1302.4 1339.0 L1305.4 1339.3 L1308.4 1339.6 L1311.4 1339.9 L1314.4 1340.2 L1317.4 1340.5 L1320.4 1340.8 L1323.4 1341.1 L1326.4 1341.4 L1329.4 1341.7 L1332.4 1342.0 L1335.4 1342.3 L1338.4 1342.6 L1341.4 1342.9 L1344.4 1343.2 L1347.4 1343.5 L1350.4 1343.8 L1353.4 1344.1 L1356.4 1344.4 L1359.4 1344.7 L1362.4 1345.1 L1365.4 1345.4 L1368.4 1345.7 L1371.4 1346.0 L1374.4 1346.3 L1377.4 1346.6 L1380.4 1346.9 L1383.4 1347.3 L1386.4 1347.6 L1389.4 1347.9 L1392.4 1348.2 L1395.4 1348.6 L1398.4 1348.9 L1401.4 1349.2 L1404.4 1349.5 L1407.4 1349.9 L1410.4 1350.2 L1413.4 1350.5 L1416.4 1350.9 L1419.4 1351.2 L1422.4 1351.5 L1425.4 1351.9 L1428.4 1352.2 L1431.4 1352.6 L1434.4 1352.9 L1437.4 1353.3 L1440.4 1353.6 L1443.4 1353.9 L1446.4 1354.3 L1449.4 1354.6 L1452.4 1355.0 L1455.4 1355.4 L1458.4 1355.7 L1461.4 1356.1 L1464.4 1356.4 L1467.4 1356.8 L1470.4 1357.1 L1473.4 1357.5 L1476.4 1357.9 L1479.4 1358.2 L1482.4 1358.6 L1485.4 1358.9 L1488.4 1359.3 L1491.4 1359.7 L1494.4 1360.0 L1497.4 1360.4 L1500.4 1360.8 L1503.4 1361.1 L1506.4 1361.5 L1509.4 1361.9 L1512.4 1362.3 L1515.4 1362.6 L1518.4 1363.0 L1521.4 1363.4 L1524.4 1363.8 L1527.4 1364.1 L1530.4 1364.5 L1533.4 1364.9 L1536.4 1365.3 L1539.4 1365.7 L1542.4 1366.0 L1545.4 1366.4 L1548.4 1366.8 L1551.4 1367.2 L1554.4 1367.6 L1557.4 1367.9 L1560.4 1368.3 L1563.4 1368.7 L1566.4 1369.1 L1569.4 1369.5 L1572.4 1369.8 L1575.4 1370.2 L1578.4 1370.6 L1581.4 1371.0 L1584.4 1371.4 L1587.4 1371.8 L1590.4 1372.1 L1593.4 1372.5 L1596.4 1372.9 L1599.4 1373.3 L1602.4 1373.7 L1605.4 1374.0 L1608.4 1374.4 L1611.4 1374.8 L1614.4 1375.2 L1617.4 1375.5 L1620.4 1375.9 L1623.4 1376.3 L1626.4 1376.7 L1629.4 1377.0 L1632.4 1377.4 L1635.4 1377.8 L1638.4 1378.2 L1641.4 1378.5 L1644.4 1378.9 L1647.4 1379.3 L1650.4 1379.6 L1653.4 1380.0 L1656.4 1380.3 L1659.4 1380.7 L1662.4 1381.1 L1665.4 1381.4 L1668.4 1381.8 L1671.4 1382.1 L1674.4 1382.5 L1677.4 1382.8 L1680.4 1383.1 L1683.4 1383.5 L1686.4 1383.8 L1689.4 1384.1 L1692.4 1384.5 L1695.4 1384.8 L1698.4 1385.1 L1701.4 1385.4 L1704.4 1385.7 L1707.4 1386.0 L1710.4 1386.3 L1713.4 1386.6 L1716.4 1386.9 L1719.4 1387.2 L1722.4 1387.5 L1725.4 1387.8 L1728.4 1388.1 L1731.4 1388.3 L1734.4 1388.6 L1737.4 1388.9 L1740.4 1389.1 L1743.4 1389.4 L1746.4 1389.6 L1749.4 1389.8 L1752.4 1390.1 L1755.4 1390.3 L1758.4 1390.5 L1761.4 1390.7 L1764.4 1390.9 L1767.4 1391.1 L1770.4 1391.3 L1773.4 1391.5 L1776.4 1391.6 L1779.4 1391.8 L1782.4 1391.9 L1785.4 1392.1 L1788.4 1392.2 L1791.4 1392.3 L1794.4 1392.5 L1797.4 1392.6 L1800.4 1392.7 L1803.4 1392.8 L1806.4 1392.9 L1809.4 1393.0 L1812.4 1393.0 L1815.4 1393.1 L1818.4 1393.2 L1821.4 1393.3 L1824.4 1393.3 L1827.4 1393.4 L1830.4 1393.4 L1833.4 1393.5 L1836.4 1393.5 L1839.4 1393.5 L1842.4 1393.5 L1845.4 1393.6 L1848.4 1393.6 L1851.4 1393.6 L1854.4 1393.6 L1857.4 1393.6 L1860.4 1393.6 L1863.4 1393.6 L1866.4 1393.6 L1869.4 1393.6 L1872.4 1393.6 L1875.4 1393.6 L1878.4 1393.6 L1881.4 1393.6 L1884.4 1393.5 L1887.4 1393.5 L1890.4 1393.5 L1893.4 1393.5 L1896.4 1393.4 L1899.4 1393.4 L1902.4 1393.3 L1905.4 1393.3 L1908.4 1393.3 L1911.4 1393.2 L1914.4 1393.2 L1917.4 1393.1 L1920.4 1393.1 L1923.4 1393.0 L1926.4 1393.0 L1929.4 1392.9 L1932.4 1392.8 L1935.4 1392.8 L1938.4 1392.7 L1941.4 1392.7 L1944.4 1392.6 L1947.4 1392.5 L1950.4 1392.4 L1953.4 1392.4 L1956.4 1392.3 L1959.4 1392.2 L1962.4 1392.1 L1965.4 1392.1 L1968.4 1392.0 L1971.4 1391.9 L1974.4 1391.8 L1977.4 1391.7 L1980.4 1391.6 L1983.4 1391.5 L1986.4 1391.4 L1989.4 1391.3 L1992.4 1391.2 L1995.4 1391.1 L1998.4 1391.0 L2001.4 1390.9 L2004.4 1390.8 L2007.4 1390.7 L2010.4 1390.6 L2013.4 1390.5 L2016.4 1390.4 L2019.4 1390.2 L2022.4 1390.1 L2025.4 1390.0 L2028.4 1389.9 L2031.4 1389.8 L2034.4 1389.7 L2037.4 1389.5 L2040.4 1389.4 L2043.4 1389.3 L2046.4 1389.2 L2049.4 1389.1 L2052.4 1388.9 L2055.4 1388.8 L2056.3 1388.8" fill="none" stroke="#008000" stroke-width="9" stroke-linejoin="round"/>
<g><circle cx="522.4" cy="1217.9" r="31.0" fill="#008000"/><circle cx="513.9" cy="1209.5" r="15.5" fill="#6eb76e"/><circle cx="513.9" cy="1209.5" r="10.7" fill="#add6ad"/><circle cx="513.9" cy="1209.5" r="5.7" fill="#f7fbf7"/><circle cx="829.1" cy="1296.0" r="31.0" fill="#008000"/><circle cx="820.6" cy="1287.6" r="15.5" fill="#6eb76e"/><circle cx="820.6" cy="1287.6" r="10.7" fill="#add6ad"/><circle cx="820.6" cy="1287.6" r="5.7" fill="#f7fbf7"/><circle cx="1135.9" cy="1324.0" r="31.0" fill="#008000"/><circle cx="1127.4" cy="1315.6" r="15.5" fill="#6eb76e"/><circle cx="1127.4" cy="1315.6" r="10.7" fill="#add6ad"/><circle cx="1127.4" cy="1315.6" r="5.7" fill="#f7fbf7"/><circle cx="1442.6" cy="1348.5" r="31.0" fill="#008000"/><circle cx="1434.1" cy="1340.1" r="15.5" fill="#6eb76e"/><circle cx="1434.1" cy="1340.1" r="10.7" fill="#add6ad"/><circle cx="1434.1" cy="1340.1" r="5.7" fill="#f7fbf7"/><circle cx="1749.4" cy="1401.0" r="31.0" fill="#008000"/><circle cx="1740.9" cy="1392.6" r="15.5" fill="#6eb76e"/><circle cx="1740.9" cy="1392.6" r="10.7" fill="#add6ad"/><circle cx="1740.9" cy="1392.6" r="5.7" fill="#f7fbf7"/><circle cx="2056.1" cy="1388.2" r="31.0" fill="#008000"/><circle cx="2047.6" cy="1379.8" r="15.5" fill="#6eb76e"/><circle cx="2047.6" cy="1379.8" r="10.7" fill="#add6ad"/><circle cx="2047.6" cy="1379.8" r="5.7" fill="#f7fbf7"/></g>
<g shape-rendering="crispEdges"><rect x="366" y="95" width="1847" height="6" fill="#000"/><rect x="354" y="1577" width="1859" height="7" fill="#000"/><rect x="366" y="95" width="6" height="1500" fill="#000"/><rect x="2206" y="95" width="7" height="1500" fill="#000"/><rect x="354" y="95" width="12" height="6" fill="#000"/><rect x="339" y="1429.2" width="27" height="6" fill="#000"/><rect x="339" y="1132.8" width="27" height="6" fill="#000"/><rect x="339" y="836.2" width="27" height="6" fill="#000"/><rect x="339" y="539.8" width="27" height="6" fill="#000"/><rect x="339" y="243.2" width="27" height="6" fill="#000"/><rect x="354" y="1281.0" width="12" height="6" fill="#000"/><rect x="354" y="984.5" width="12" height="6" fill="#000"/><rect x="354" y="688.0" width="12" height="6" fill="#000"/><rect x="354" y="391.5" width="12" height="6" fill="#000"/><rect x="518.9" y="1584" width="7" height="26" fill="#000"/><rect x="825.6" y="1584" width="7" height="26" fill="#000"/><rect x="1132.4" y="1584" width="7" height="26" fill="#000"/><rect x="1439.1" y="1584" width="7" height="26" fill="#000"/><rect x="1745.9" y="1584" width="7" height="26" fill="#000"/><rect x="2052.6" y="1584" width="7" height="26" fill="#000"/><rect x="672.2" y="1584" width="7" height="11" fill="#000"/><rect x="979.0" y="1584" width="7" height="11" fill="#000"/><rect x="1285.8" y="1584" width="7" height="11" fill="#000"/><rect x="1592.5" y="1584" width="7" height="11" fill="#000"/><rect x="1899.2" y="1584" width="7" height="11" fill="#000"/></g>
<g filter="url(#al)"><text x="319.5" y="1457.2" font-size="86" text-anchor="end">2</text><text x="319.5" y="1160.8" font-size="86" text-anchor="end">4</text><text x="319.5" y="864.2" font-size="86" text-anchor="end">6</text><text x="319.5" y="567.8" font-size="86" text-anchor="end">8</text><text x="319.5" y="271.2" font-size="86" text-anchor="end">10</text><text x="522.4" y="1695" font-size="86" text-anchor="middle">20</text><text x="829.1" y="1695" font-size="86" text-anchor="middle">40</text><text x="1135.9" y="1695" font-size="86" text-anchor="middle">60</text><text x="1442.6" y="1695" font-size="86" text-anchor="middle">80</text><text x="1749.4" y="1695" font-size="86" text-anchor="middle">100</text><text x="2056.1" y="1695" font-size="86" text-anchor="middle">120</text></g>
<g filter="url(#al)"><text x="902.6" y="1827" font-size="106.7">Temperature (°C)</text>
<text transform="translate(103.2 1607) rotate(-90)" font-size="91">hydration number (mol H<tspan font-size="63" dy="26">2</tspan><tspan dy="-26">O / mol SO</tspan><tspan font-size="63" dy="26">3</tspan><tspan font-size="63" dy="-61">-</tspan><tspan dy="35">)</tspan></text></g>
<g><line x1="1635" y1="215.4" x2="1812" y2="215.4" stroke="#000000" stroke-width="9"/><circle cx="1723.3" cy="215.4" r="30.5" fill="#000000"/><circle cx="1714.8" cy="207.0" r="15.5" fill="#6e6e6e"/><circle cx="1714.8" cy="207.0" r="10.7" fill="#adadad"/><circle cx="1714.8" cy="207.0" r="5.7" fill="#f7f7f7"/><text x="1833.7" y="242.9" font-size="78" font-weight="bold" letter-spacing="-0.8" filter="url(#al)" style="fill:#000000">38 wt%</text><line x1="1635" y1="312.7" x2="1812" y2="312.7" stroke="#ff0000" stroke-width="9"/><circle cx="1723.3" cy="312.7" r="30.5" fill="#ff0000"/><circle cx="1714.8" cy="304.3" r="15.5" fill="#ff6e6e"/><circle cx="1714.8" cy="304.3" r="10.7" fill="#ffadad"/><circle cx="1714.8" cy="304.3" r="5.7" fill="#fff7f7"/><text x="1833.7" y="340.2" font-size="78" font-weight="bold" letter-spacing="-0.8" filter="url(#al)" style="fill:#ff0000">30 wt%</text><line x1="1635" y1="410.0" x2="1812" y2="410.0" stroke="#0000ff" stroke-width="9"/><circle cx="1723.3" cy="410.0" r="30.5" fill="#0000ff"/><circle cx="1714.8" cy="401.6" r="15.5" fill="#6e6eff"/><circle cx="1714.8" cy="401.6" r="10.7" fill="#adadff"/><circle cx="1714.8" cy="401.6" r="5.7" fill="#f7f7ff"/><text x="1833.7" y="437.5" font-size="78" font-weight="bold" letter-spacing="-0.8" filter="url(#al)" style="fill:#0000ff">20 wt%</text><line x1="1635" y1="507.3" x2="1812" y2="507.3" stroke="#008000" stroke-width="9"/><circle cx="1723.3" cy="507.3" r="30.5" fill="#008000"/><circle cx="1714.8" cy="498.9" r="15.5" fill="#6eb76e"/><circle cx="1714.8" cy="498.9" r="10.7" fill="#add6ad"/><circle cx="1714.8" cy="498.9" r="5.7" fill="#f7fbf7"/><text x="1833.7" y="534.8" font-size="78" font-weight="bold" letter-spacing="-0.8" filter="url(#al)" style="fill:#008000">10 wt%</text></g>
</svg>
</body></html>
